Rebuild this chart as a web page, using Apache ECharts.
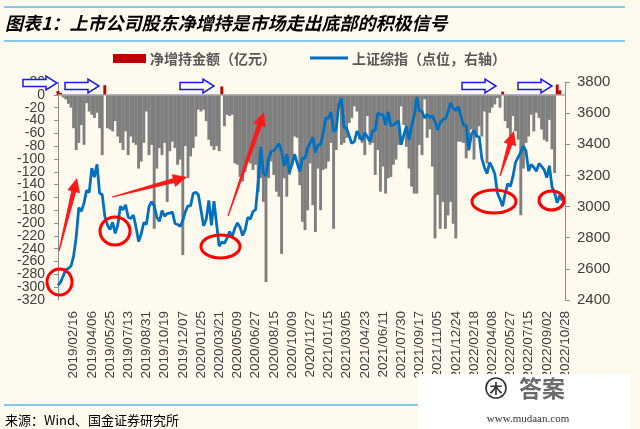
<!DOCTYPE html>
<html><head><meta charset="utf-8">
<script src="https://cdn.jsdelivr.net/npm/echarts@6/dist/echarts.min.js"></script>
<style>html,body{margin:0;padding:0;background:#FFF9EE;}#c{width:640px;height:429px;}</style>
</head><body><div id="c"></div>
<script>
// ---- data ----
const tickLabels = ['2019/02/16','2019/04/06','2019/05/25','2019/07/13','2019/08/31','2019/10/19','2019/12/07',
'2020/01/25','2020/03/21','2020/05/09','2020/06/27','2020/08/15','2020/10/09','2020/11/27',
'2021/01/15','2021/03/05','2021/04/23','2021/06/11','2021/07/30','2021/09/17','2021/11/05','2021/12/24',
'2022/02/18','2022/04/08','2022/05/27','2022/07/15','2022/09/02','2022/10/28'];

// 净增持金额（亿元），weekly
const netBuy = [
6,3,-4,-7,-14,-20,-52,-86,-75,-47,
-78,-13,-26,-31,-36,-28,-52,-94,15,-52,
-54,-57,-41,-65,-75,-86,-57,-94,-65,-75,
-78,-115,-104,-75,-26,-94,-78,-209,-115,-83,
-94,-75,-167,-88,-73,-83,-109,-101,-250,-80,
-130,-96,-83,-65,-23,-26,-23,-41,-70,-80,
-86,-80,-88,13,-49,-31,-33,-31,-107,-109,
-128,-135,-120,-99,-107,-117,-109,-151,-130,-167,
-292,-130,-104,-125,-151,-159,-248,-130,-159,-125,
-109,-65,-67,-141,-198,-211,-180,-107,-172,-214,
-115,-180,-117,-115,-104,-75,-209,-86,-18,-78,
-75,-67,-44,-36,-18,-26,-70,-75,-94,-33,
-78,-75,-125,-86,-151,-112,-154,-130,-128,-109,
-101,-78,-18,-47,-81,-115,-143,-154,-154,-78,
-94,-7,-67,-54,-112,-224,-156,-209,-167,-209,
-188,-167,-201,-224,-73,-73,-75,-99,-70,-54,
-101,-65,-49,-65,-26,-107,-28,-20,-15,-5,
-20,5,-41,-52,-75,-33,-57,-70,-188,-115,
-75,-65,-31,-57,-28,-36,-54,-70,-73,-39,
-85,-122,16,7,0,null
];

// 上证综指（点位，右轴），weekly
const sseIndex = [
2494,2515,2554,2596,2602,2618,2682,2804,2994,2970,
3022,3104,3091,3247,3189,3271,3086,3078,2939,2882,
2853,2899,2828,2882,3002,2979,3011,2931,2924,2945,
2868,2775,2824,2897,2886,2999,3031,3006,2932,2905,
2974,2938,2955,2958,2964,2891,2885,2872,2912,2968,
3005,3005,3084,3092,3075,2977,2876,2917,3040,2880,
3035,2887,2746,2772,2764,2797,2839,2809,2860,2895,
2868,2814,2852,2931,2920,2968,2980,3153,3383,3214,
3197,3310,3354,3360,3381,3404,3355,3260,3338,3219,
3272,3336,3278,3225,3312,3310,3378,3408,3445,3347,
3395,3397,3473,3570,3566,3607,3483,3496,3655,3696,
3509,3502,3453,3405,3418,3484,3451,3427,3474,3447,
3419,3490,3487,3601,3592,3590,3525,3608,3519,3524,
3539,3550,3397,3458,3516,3427,3522,3582,3703,3614,
3613,3568,3592,3572,3583,3547,3492,3539,3560,3564,
3607,3666,3632,3618,3640,3580,3521,3523,3361,3463,
3491,3451,3448,3310,3251,3212,3283,3252,3211,3087,
3047,3002,3084,3147,3130,3195,3285,3317,3350,3388,
3356,3228,3270,3253,3227,3277,3258,3236,3186,3262,
3126,3088,3024,3072,3039,null
];

// weekly category dates, anchored on the tick labels (one tick every 7 weeks, first at week 6)
function parseD(s){const p=s.split('/');return Date.UTC(+p[0],+p[1]-1,+p[2]);}
function fmtD(t){const d=new Date(t);const m=d.getUTCMonth()+1,dd=d.getUTCDate();return d.getUTCFullYear()+'/'+(m<10?'0':'')+m+'/'+(dd<10?'0':'')+dd;}
const categories = [];
for (let i = 0; i < netBuy.length; i++) {
  let k = Math.floor((i - 6) / 7); if (k < 0) k = 0; if (k > tickLabels.length - 1) k = tickLabels.length - 1;
  const off = i - (6 + 7 * k);
  categories.push(off === 0 ? tickLabels[k] : fmtD(parseD(tickLabels[k]) + off * 7 * 86400000));
}

// ---- drawing helpers for annotations ----
function blockArrow(x, y, len, bh, hh, hl) {
  return [[x,y-bh],[x+len-hl,y-bh],[x+len-hl,y-hh],[x+len,y],[x+len-hl,y+hh],[x+len-hl,y+bh],[x,y+bh]];
}
function wedgeArrow(x1,y1,x2,y2,w0,w1,hw,hl){
  const dx=x2-x1,dy=y2-y1,L=Math.hypot(dx,dy),ux=dx/L,uy=dy/L,nx=-uy,ny=ux;
  const bx=x2-ux*hl,by=y2-uy*hl;
  return [[x1+nx*w0/2,y1+ny*w0/2],[bx+nx*w1/2,by+ny*w1/2],[bx+nx*hw,by+ny*hw],[x2,y2],
          [bx-nx*hw,by-ny*hw],[bx-nx*w1/2,by-ny*w1/2],[x1-nx*w0/2,y1-ny*w0/2]];
}
const CJK = '"Noto Sans CJK SC", sans-serif';
const LAT = '"Liberation Sans", Arial, sans-serif';
const gray = '#404040';

const graphics = [
  {type:'line', shape:{x1:4,y1:7,x2:625,y2:7}, style:{stroke:'#5BB8E8',lineWidth:1.5}},
  {type:'line', shape:{x1:4,y1:41,x2:625,y2:41}, style:{stroke:'#5BB8E8',lineWidth:1.5}},
  {type:'text', x:5, y:23, style:{text:'图表1：上市公司股东净增持是市场走出底部的积极信号', font:'italic bold 18px '+CJK, fill:'#000', textVerticalAlign:'middle'}},
  {type:'line', shape:{x1:4,y1:405,x2:625,y2:405}, style:{stroke:'#5BB8E8',lineWidth:1.5}},
  {type:'text', x:5, y:420, style:{text:'来源：Wind、国金证券研究所', font:'13px '+CJK, fill:'#000', textVerticalAlign:'middle'}},
  // legend
  {type:'rect', shape:{x:113,y:54,width:33,height:9}, style:{fill:'#C00000'}},
  {type:'text', x:150, y:59, style:{text:'净增持金额（亿元）', font:'bold 14px '+CJK, fill:'#595959', textVerticalAlign:'middle'}},
  {type:'line', shape:{x1:310,y1:58,x2:348,y2:58}, style:{stroke:'#0070C0',lineWidth:3}},
  {type:'text', x:352, y:59, style:{text:'上证综指（点位，右轴）', font:'bold 14px '+CJK, fill:'#595959', textVerticalAlign:'middle'}}
];
// blue outline arrows
[[23,83],[65,86],[180,86],[462,86],[518,86]].forEach(p=>{
  graphics.push({type:'polygon', z:50, shape:{points:blockArrow(p[0],p[1],34,3.5,7,11)}, style:{fill:'#FFFFFF',stroke:'#1A1AF0',lineWidth:1.5}});
});
// red arrows
[[59,251,77,178],[112,197,187,177],[228,216,264,112],[500,176,514,131]].forEach(a=>{
  graphics.push({type:'polygon', z:50, shape:{points:wedgeArrow(a[0],a[1],a[2],a[3],1.2,5,6.5,14)}, style:{fill:'#FF1A1A'}});
});
// red ellipses
[[59.5,282,12.5,13],[115,231,15,14],[220.5,246.5,19.5,11.5],[494,201.5,22,11.5],[551.5,200.5,12.5,9.5]].forEach(e=>{
  graphics.push({type:'ellipse', z:50, shape:{cx:e[0],cy:e[1],rx:e[2],ry:e[3]}, style:{fill:null,stroke:'#FF0000',lineWidth:3}});
});
// watermark box
graphics.push({type:'rect', z:60, shape:{x:418,y:374,width:213,height:55}, style:{fill:'#FFFFFF'}});
graphics.push({type:'circle', z:61, shape:{cx:496,cy:388,r:10}, style:{fill:null,stroke:'#333',lineWidth:1.6}});
graphics.push({type:'text', z:61, x:496, y:388, style:{text:'木', font:'bold 13px '+CJK, fill:'#333', textAlign:'center', textVerticalAlign:'middle'}});
graphics.push({type:'text', z:61, x:542, y:388, style:{text:'答案', font:'bold 23px '+CJK, fill:'#6b6b6b', textAlign:'center', textVerticalAlign:'middle'}});
graphics.push({type:'text', z:61, x:528, y:419, style:{text:'www.mudaan.com', font:'11px "Liberation Serif", serif', fill:'#333', textAlign:'center', textVerticalAlign:'middle'}});

const leftMin = -320, leftMax = 20, leftStep = 20;
const leftLabel = {color:gray, fontSize:14, fontFamily:LAT, margin:13};

const chart = echarts.init(document.getElementById('c'), null, {renderer:'canvas'});
chart.setOption({
  backgroundColor:'#FFF9EE',
  animation:false,
  grid:{left:58, right:75, top:82, bottom:129, containLabel:false, outerBoundsMode:'none'},
  xAxis:{
    type:'category', data:categories, boundaryGap:false,
    axisLine:{show:false}, axisTick:{show:false}, splitLine:{show:false},
    axisLabel:{rotate:90, margin:11, color:gray, fontSize:13.5, fontFamily:LAT, hideOverlap:false,
      interval:function(idx, val){ return tickLabels.indexOf(val) >= 0; }}
  },
  yAxis:[
    {type:'value', position:'left', min:leftMin, max:leftMax, interval:leftStep,
      axisLine:{show:true, lineStyle:{color:'#8C8C8C', width:1}},
      axisTick:{show:true, length:4, lineStyle:{color:'#8C8C8C'}},
      splitLine:{show:false},
      axisLabel:Object.assign({formatter:function(v){return String(v);}}, leftLabel)},
    {type:'value', position:'right', min:2400, max:3800, interval:200,
      axisLine:{show:true, lineStyle:{color:'#8C8C8C', width:1}},
      axisTick:{show:true, length:5, lineStyle:{color:'#8C8C8C'}},
      splitLine:{show:false},
      axisLabel:{color:gray, fontSize:15, fontFamily:LAT, margin:12, showMinLabel:true, showMaxLabel:true,
        formatter:function(v){return String(v);}}},
    // companion axis that only carries the end labels (20 and -320) of the left axis
    {type:'value', position:'left', min:leftMin, max:leftMax, interval:leftStep,
      axisLine:{show:false}, axisTick:{show:false}, splitLine:{show:false},
      axisLabel:Object.assign({showMinLabel:true, showMaxLabel:true,
        formatter:function(v){return (v === leftMin || v === leftMax) ? String(v) : '';}}, leftLabel)}
  ],
  series:[
    {name:'净增持金额（亿元）', type:'bar', yAxisIndex:0, data:netBuy, barWidth:2.9,
      itemStyle:{color:function(p){return p.value >= 0 ? '#C00000' : '#7F7F7F';}},
      markLine:{silent:true, symbol:'none', label:{show:false},
        lineStyle:{color:'#A6A6A6', width:1.5, type:'solid'}, data:[{yAxis:0}]}},
    {name:'上证综指（点位，右轴）', type:'line', yAxisIndex:1, data:sseIndex, showSymbol:false, z:3,
      lineStyle:{color:'#0070C0', width:2.8}, itemStyle:{color:'#0070C0'}}
  ],
  graphic:graphics
});
</script></body></html>
